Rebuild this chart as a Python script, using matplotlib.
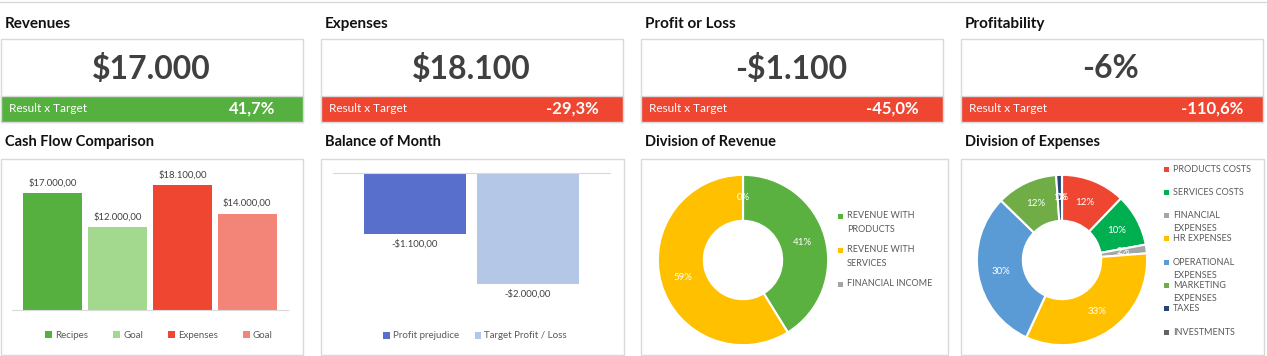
import matplotlib.pyplot as plt
import matplotlib.patches as mpatches
import numpy as np

plt.rcParams['font.family'] = ['Lato', 'DejaVu Sans']

# ---- data ----
kpi_titles = ['Revenues', 'Expenses', 'Profit or Loss', 'Profitability']
kpi_values = ['$17.000', '$18.100', '-$1.100', '-6%']
kpi_vs_target = [41.7, -29.3, -45.0, -110.6]

chart_titles = ['Cash Flow Comparison', 'Balance of Month', 'Division of Revenue', 'Division of Expenses']

cash_labels = ['Recipes', 'Goal', 'Expenses', 'Goal']
cash_values = [17000, 12000, 18100, 14000]

balance_labels = ['Profit prejudice', 'Target Profit / Loss']
balance_values = [-1100, -2000]

revenue_labels = ['REVENUE WITH\nPRODUCTS', 'REVENUE WITH\nSERVICES', 'FINANCIAL INCOME']
revenue_values = [7000, 10000, 0]

expense_labels = ['PRODUCTS COSTS', 'SERVICES COSTS', 'FINANCIAL\nEXPENSES', 'HR EXPENSES',
                  'OPERATIONAL\nEXPENSES', 'MARKETING\nEXPENSES', 'TAXES', 'INVESTMENTS']
expense_values = [2200, 1800, 300, 6000, 5500, 2100, 200, 0]

# ---- style ----
GREEN = '#55B03F'
RED = '#EF4631'
BORDER = '#D9D9D9'
DARK = '#404040'
LEG = '#595959'
cash_colors = [GREEN, '#A2D98F', RED, '#F28577']
balance_colors = ['#5870CB', '#B4C7E7']
revenue_colors = ['#5AB140', '#FFC000', '#A5A5A5']
expense_colors = ['#EF4631', '#00B050', '#A5A5A5', '#FFC000', '#5B9BD5', '#70AD47', '#264478', '#636363']

W, H = 1267, 356
fig = plt.figure(figsize=(W / 100, H / 100), dpi=100)


def rect(x, y, w, h):
    return [x / W, 1 - (y + h) / H, w / W, h / H]


def money(v):
    s = f'{abs(v):,.2f}'.replace(',', 'X').replace('.', ',').replace('X', '.')
    return ('-$' if v < 0 else '$') + s


# background layer in pixel coords
bg = fig.add_axes([0, 0, 1, 1])
bg.set_xlim(0, W)
bg.set_ylim(H, 0)
bg.axis('off')
bg.plot([0, W], [1.5, 1.5], color=BORDER, lw=1)

lefts = [0, 320, 640, 960]
widths = [302, 303, 307, 303]

# KPI cards
for i, x0 in enumerate(lefts):
    bg.text(x0 + 5, 24, kpi_titles[i], fontsize=11, fontweight='bold', color='#111111', va='center')
    bg.add_patch(mpatches.Rectangle((x0 + 0.5, 39), 302, 83, fc='white', ec=BORDER, lw=1))
    band = GREEN if kpi_vs_target[i] >= 0 else RED
    bg.add_patch(mpatches.Rectangle((x0 + 0.5, 96), 302, 26, fc=band, ec=BORDER, lw=1))
    bg.text(x0 + 151, 69, kpi_values[i], fontsize=23, fontweight='bold', color=DARK,
            ha='center', va='center')
    bg.text(x0 + 9, 108, 'Result x Target', fontsize=8.5, color='white', va='center')
    pct = f'{kpi_vs_target[i]:.1f}%'.replace('.', ',')
    bg.text(x0 + 252, 109, pct, fontsize=12, fontweight='bold', color='white',
            ha='center', va='center')

# chart frames
for i, x0 in enumerate(lefts):
    bg.text(x0 + 5, 142, chart_titles[i], fontsize=10.5, fontweight='bold', color='#111111', va='center')
    bg.add_patch(mpatches.Rectangle((x0 + 0.5, 159), widths[i], 196, fc='white', ec=BORDER, lw=1))

# Cash flow comparison
ax1 = fig.add_axes(rect(12, 160, 276, 150))
x = np.arange(len(cash_values))
bars = ax1.bar(x, cash_values, width=0.91, color=cash_colors)
ax1.bar_label(bars, labels=[money(v) for v in cash_values], padding=4, fontsize=6.8, color=DARK)
ax1.set_xlim(-0.63, 3.63)
ax1.set_ylim(0, 21800)
for s in ['top', 'left', 'right']:
    ax1.spines[s].set_visible(False)
ax1.spines['bottom'].set_color(BORDER)
ax1.set_xticks([])
ax1.set_yticks([])
ax1.patch.set_alpha(0)
fig.legend(list(bars), cash_labels, loc='center', bbox_to_anchor=(159 / W, 1 - 335 / H), ncol=4,
           frameon=False, fontsize=7, handlelength=0.7, handleheight=0.7, handletextpad=0.3,
           columnspacing=2.6, labelcolor=LEG)

# Balance of month
ax2 = fig.add_axes(rect(333, 173, 277, 145))
xb = np.arange(len(balance_values))
bars2 = ax2.bar(xb, balance_values, width=0.9, color=balance_colors)
ax2.bar_label(bars2, labels=[money(v) for v in balance_values], padding=4, fontsize=6.8, color=DARK)
ax2.set_xlim(-0.726, 1.726)
ax2.set_ylim(-2613, 0)
for s in ['bottom', 'left', 'right']:
    ax2.spines[s].set_visible(False)
ax2.spines['top'].set_color(BORDER)
ax2.set_xticks([])
ax2.set_yticks([])
ax2.patch.set_alpha(0)
fig.legend(list(bars2), balance_labels, loc='center', bbox_to_anchor=(475 / W, 1 - 336 / H), ncol=2,
           frameon=False, fontsize=7, handlelength=0.7, handleheight=0.7, handletextpad=0.3,
           columnspacing=1.6, labelcolor=LEG)


def donut(cx, cy, values, colors):
    ax = fig.add_axes(rect(cx - 86, cy - 86, 172, 172))
    _, _, autotexts = ax.pie(values, colors=colors, startangle=90, counterclock=False,
                             wedgeprops=dict(width=0.54, edgecolor='white', linewidth=1.5),
                             autopct='%.0f%%', pctdistance=0.73,
                             textprops=dict(color='white', fontsize=7))
    ax.set_xlim(-1.01, 1.01)
    ax.set_ylim(-1.01, 1.01)
    return ax


def side_legend(mx, y0, step, labels, colors):
    for i, (lab, c) in enumerate(zip(labels, colors)):
        y = y0 + i * step
        bg.add_patch(mpatches.Rectangle((mx - 2.5, y - 2.5), 5, 5, fc=c, ec='none'))
        for j, line in enumerate(lab.split('\n')):
            bg.text(mx + 7, y + j * 13, line, fontsize=6.5, color=LEG, va='center')


donut(743, 260, revenue_values, revenue_colors)
side_legend(840, 216, 34, revenue_labels, revenue_colors)

donut(1062, 260, expense_values, expense_colors)
side_legend(1166, 169, 23.3, expense_labels, expense_colors)

fig.savefig('out.png', dpi=100)
